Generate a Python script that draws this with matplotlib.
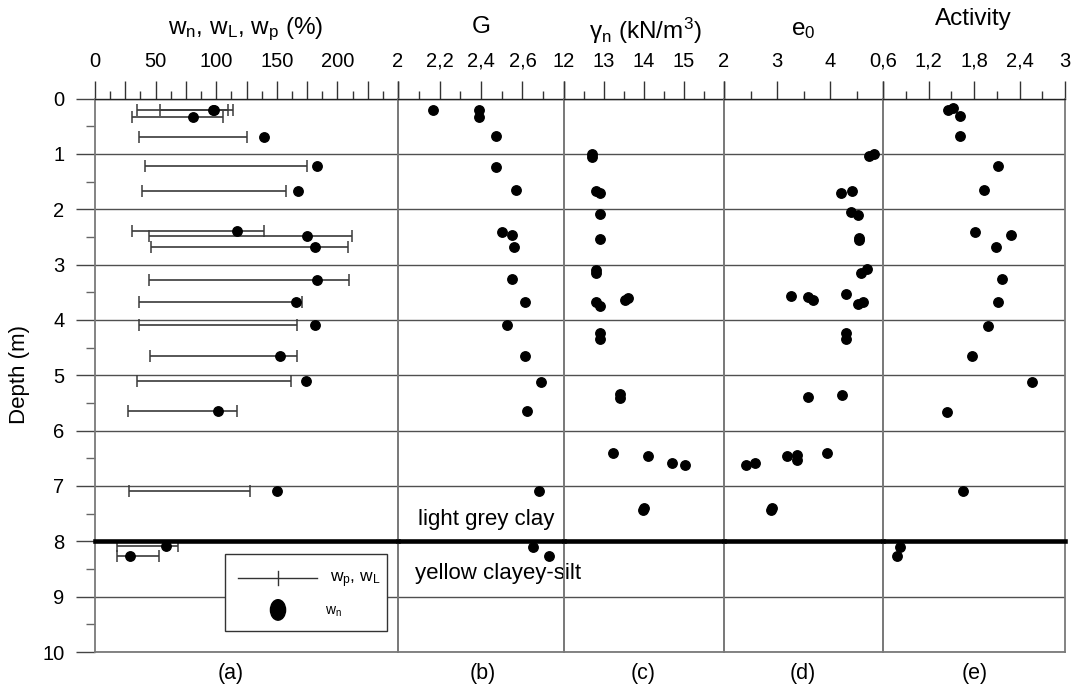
import numpy as np
import matplotlib
matplotlib.use('Agg')
import matplotlib.pyplot as plt
from matplotlib.patches import Rectangle, Ellipse

# --- 数据 ---
# (a) 含水率与界限含水率 (%)
atb_depth = [0.20, 0.20, 0.33, 0.69, 1.22, 1.67, 2.40, 2.48, 2.69, 3.28,
             3.68, 4.10, 4.66, 5.11, 5.65, 7.09, 8.09, 8.26]
wp = [34.4, 53.6, 30.2, 36.0, 41.0, 38.8, 30.2, 44.3, 45.9, 44.3,
      36.3, 36.3, 45.1, 34.9, 27.0, 27.8, 17.9, 17.9]
wL = [110.0, 114.0, 105.9, 125.0, 175.2, 157.9, 139.4, 211.8, 208.5, 209.3,
      171.0, 166.4, 166.4, 161.7, 117.2, 127.6, 68.8, 52.8]
wn = [98.0, 97.0, 80.6, 139.4, 182.9, 167.8, 117.2, 175.2, 181.5, 182.9,
      165.8, 181.5, 152.9, 174.1, 101.5, 149.9, 58.3, 28.6]

# (b) 比重 G
g_depth = [0.21, 0.21, 0.33, 0.68, 1.23, 1.65, 2.41, 2.47, 2.68, 3.27,
           3.67, 4.10, 4.66, 5.12, 5.65, 7.10, 8.10, 8.27]
g_val = [2.17, 2.39, 2.39, 2.47, 2.47, 2.57, 2.50, 2.55, 2.56, 2.55,
         2.61, 2.525, 2.61, 2.69, 2.62, 2.68, 2.65, 2.73]

# (c) 天然重度 (kN/m3)
gam_depth = [1.00, 1.06, 1.67, 1.71, 2.09, 2.54, 3.10, 3.15, 3.60, 3.64,
             3.67, 3.74, 4.24, 4.35, 5.34, 5.42, 6.40, 6.45, 6.59, 6.63,
             7.40, 7.44]
gam_val = [12.71, 12.71, 12.79, 12.91, 12.91, 12.91, 12.81, 12.81, 13.61, 13.52,
           12.79, 12.91, 12.90, 12.90, 13.41, 13.41, 13.22, 14.10, 14.71, 15.02,
           14.0, 13.98]

# (d) 初始孔隙比 e0
e_depth = [1.00, 1.04, 1.68, 1.71, 2.05, 2.10, 2.52, 2.56, 3.08, 3.15,
           3.53, 3.56, 3.58, 3.64, 3.68, 3.72, 4.24, 4.35, 5.36, 5.40,
           6.40, 6.44, 6.53, 6.45, 6.59, 6.62, 7.40, 7.44]
e_val = [4.83, 4.74, 4.42, 4.20, 4.39, 4.53, 4.55, 4.55, 4.69, 4.58,
         4.31, 3.26, 3.59, 3.67, 4.62, 4.53, 4.31, 4.31, 4.23, 3.58,
         3.94, 3.38, 3.38, 3.19, 2.59, 2.41, 2.90, 2.88]

# (e) 活动性指数
act_depth = [0.18, 0.21, 0.31, 0.67, 1.22, 1.65, 2.41, 2.47, 2.68, 3.27,
             3.67, 4.11, 4.66, 5.12, 5.66, 7.10, 8.10, 8.27]
act_val = [1.525, 1.46, 1.61, 1.61, 2.12, 1.93, 1.81, 2.29, 2.09, 2.17,
           2.11, 1.99, 1.78, 2.56, 1.445, 1.65, 0.82, 0.78]

# 坐标轴刻度
a_ticks = [0, 25, 50, 75, 100, 125, 150, 175, 200, 225, 250]
a_labels = ['0', '', '50', '', '100', '', '150', '', '200', '', '']
b_ticks = [2.0, 2.2, 2.4, 2.6, 2.8]
b_labels = ['2', '2,2', '2,4', '2,6', '']
c_ticks = [12, 13, 14, 15, 16]
c_labels = ['12', '13', '14', '15', '']
d_ticks = [2, 3, 4, 5]
d_labels = ['2', '3', '4', '']
e_ticks = [0.6, 1.2, 1.8, 2.4, 3.0]
e_labels = ['0,6', '1,2', '1,8', '2,4', '3']
depth_ticks = list(range(11))
boundary_depth = 8.0

plt.rcParams['font.family'] = 'Liberation Sans'
plt.rcParams['mathtext.fontset'] = 'custom'
plt.rcParams['mathtext.rm'] = 'Liberation Sans'
plt.rcParams['mathtext.it'] = 'Liberation Sans:italic'
plt.rcParams['mathtext.default'] = 'regular'

W, H = 1075, 689
fig = plt.figure(figsize=(W / 100, H / 100), dpi=100)

edges = [95, 398, 564, 724, 883, 1065]
y_top, y_bot = 98.5, 652
GRAY = '#7a7a7a'

panels = [
    ((0, 250), a_ticks, a_labels, 12.5),
    ((2.0, 2.8), b_ticks, b_labels, 0.1),
    ((12, 16), c_ticks, c_labels, 0.5),
    ((2, 5), d_ticks, d_labels, 0.5),
    ((0.6, 3.0), e_ticks, e_labels, 0.3),
]

axes = []
for i, (xlim, ticks, labels, minor) in enumerate(panels):
    x0, x1 = edges[i], edges[i + 1]
    ax = fig.add_axes([x0 / W, 1 - y_bot / H, (x1 - x0) / W, (y_bot - y_top) / H])
    ax.patch.set_facecolor('none')   # 透明背景, 文字可跨面板
    ax.set_xlim(*xlim)
    ax.set_ylim(10, 0)
    ax.xaxis.tick_top()
    ax.set_xticks(ticks)
    ax.set_xticklabels(labels)
    ax.set_xticks(np.arange(xlim[0], xlim[1] + 1e-9, minor), minor=True)
    ax.tick_params(axis='x', which='major', direction='out', length=13, width=1,
                   pad=7, labelsize=14.5, color='#333333')
    ax.tick_params(axis='x', which='minor', direction='out', length=6, width=1,
                   color='#333333')
    ax.set_yticks(depth_ticks)
    ax.set_yticks(np.arange(0.5, 10, 1.0), minor=True)
    if i == 0:
        ax.tick_params(axis='y', which='major', direction='out', length=14, width=1,
                       pad=8, labelsize=14.5, color='#444444')
        ax.tick_params(axis='y', which='minor', direction='out', length=6.5, width=1,
                       color='#666666')
    else:
        ax.tick_params(axis='y', which='both', left=False, labelleft=False)
    ax.grid(axis='y', which='major', color='#505050', lw=1.0)
    ax.set_axisbelow(True)
    for side in ['left', 'right', 'bottom']:
        ax.spines[side].set_color(GRAY)
        ax.spines[side].set_linewidth(1.3)
    ax.spines['top'].set_color('#222222')
    ax.spines['top'].set_linewidth(1.0)
    ax.axhline(boundary_depth, color='k', lw=3.3, zorder=4, clip_on=False)
    axes.append(ax)

ax_a, ax_b, ax_c, ax_d, ax_e = axes
dot = dict(ls='none', marker='o', color='k', ms=6.8, zorder=5, clip_on=False)

# (a) 界限含水率区间 + 天然含水率
ax_a.hlines(atb_depth, wp, wL, color='#3a3a3a', lw=1.2, zorder=3)
ax_a.plot(wp, atb_depth, ls='none', marker='|', ms=9, mew=1.1, color='#3a3a3a', zorder=3)
ax_a.plot(wL, atb_depth, ls='none', marker='|', ms=9, mew=1.1, color='#3a3a3a', zorder=3)
ax_a.plot(wn, atb_depth, **dot)

ax_b.plot(g_val, g_depth, **dot)
ax_c.plot(gam_val, gam_depth, **dot)
ax_d.plot(e_val, e_depth, **dot)
ax_e.plot(act_val, act_depth, **dot)

# 图例 (手动绘制)
ax_a.add_patch(Rectangle((0.429, 0.038), 0.535, 0.139, transform=ax_a.transAxes,
                         fc='white', ec='#333333', lw=1.0, zorder=6))
ax_a.plot([0.472, 0.733], [0.134, 0.134], transform=ax_a.transAxes, color='#333333',
          lw=1.0, zorder=7)
ax_a.plot([0.604, 0.604], [0.121, 0.147], transform=ax_a.transAxes, color='#333333',
          lw=1.0, zorder=7)
ax_a.text(0.776, 0.130, 'w$_p$, w$_L$', transform=ax_a.transAxes, fontsize=12.5,
          va='center', ha='left', zorder=7)
ax_a.add_patch(Ellipse((0.604, 0.076), 0.050, 0.037, transform=ax_a.transAxes,
                       color='k', zorder=7))
ax_a.text(0.759, 0.072, 'w$_n$', transform=ax_a.transAxes, fontsize=10,
          va='center', ha='left', zorder=7)

# 土层说明
ax_b.text(2.095, 7.61, 'light grey clay', fontsize=16, va='center', ha='left', zorder=8)
ax_b.text(2.08, 8.59, 'yellow clayey-silt', fontsize=16, va='center', ha='left', zorder=8)

# 标题
def ftext(x, y, s, **kw):
    fig.text(x / W, 1 - y / H, s, ha='center', va='center', **kw)

ftext(246, 29, 'w$_n$, w$_L$, w$_p$ (%)', fontsize=17.5)
ftext(481, 27, 'G', fontsize=17.5)
ftext(645, 31, 'γ$_n$ (kN/m$^3$)', fontsize=17.5)
ftext(803, 30, 'e$_0$', fontsize=17.5)
ftext(973, 19, 'Activity', fontsize=17.5)
ftext(20, 375, 'Depth (m)', fontsize=16, rotation=90)

for x, s in zip([231, 483, 643, 803, 975], ['(a)', '(b)', '(c)', '(d)', '(e)']):
    ftext(x, 674, s, fontsize=15.5)

fig.savefig('out.png', dpi=100, facecolor='white')
